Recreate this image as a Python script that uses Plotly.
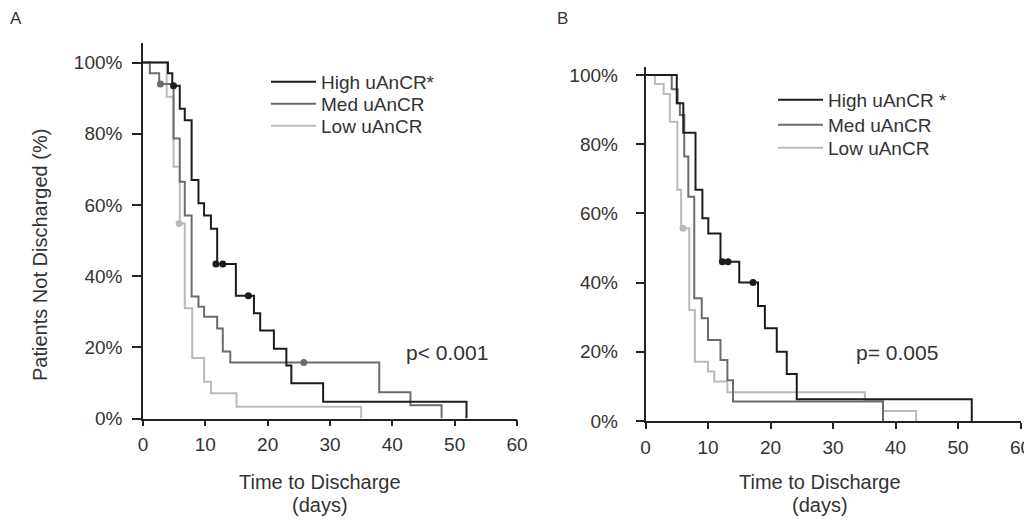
import plotly.graph_objects as go

# ---------------- Panel A data (days, % not discharged) ----------------
a_high_t = [0, 4.0, 4.7, 5.9, 6.7, 7.8, 8.9, 9.8, 10.9, 11.9, 14.9, 17.8, 18.8, 21.0, 23.0, 23.8, 28.9, 51.9]
a_high_s = [100, 97, 93.5, 87, 83.8, 67, 60.5, 57, 53.3, 43.4, 34.5, 29.6, 24.7, 19.6, 14.9, 9.9, 4.7, 0]
a_high_ct = [4.9, 11.7, 12.8, 16.9]
a_high_cs = [93.5, 43.4, 43.4, 34.5]

a_med_t = [0, 1.1, 2.6, 4.9, 5.9, 6.7, 7.8, 8.9, 9.8, 11.9, 12.8, 14.0, 37.9, 42.9, 47.9]
a_med_s = [100, 97, 94, 78.7, 66.5, 57, 34.3, 31.4, 28.6, 25.3, 18.8, 15.7, 7.4, 3.7, 0]
a_med_ct = [2.8, 25.8]
a_med_cs = [94, 15.7]

a_low_t = [0, 3.8, 4.9, 5.9, 6.7, 7.9, 9.8, 10.9, 15.0, 35.0]
a_low_s = [100, 90.4, 70.7, 54.8, 31, 17, 10.3, 7.1, 3.3, 0]
a_low_ct = [5.8]
a_low_cs = [54.8]

# ---------------- Panel B data ----------------
b_high_t = [0, 5.0, 6.05, 8.0, 9.1, 10.05, 12.0, 15.0, 18.0, 19.1, 21.0, 22.6, 24.2, 52.2]
b_high_s = [100, 91.8, 83.3, 66.8, 58.6, 54.2, 46, 40, 33.2, 26.8, 20, 13.6, 6.3, 0]
b_high_ct = [12.3, 13.2, 17.2]
b_high_cs = [46, 46, 40]

b_med_t = [0, 4.2, 5.15, 5.5, 6.2, 6.85, 7.8, 9.0, 10.0, 12.0, 13.1, 14.0, 38.0]
b_med_s = [100, 95.9, 91.8, 88.4, 76.4, 64.8, 35.5, 29.7, 23.4, 17.6, 11.8, 5.6, 0]

b_low_t = [0, 1.5, 2.9, 3.9, 5.1, 5.7, 7.0, 7.9, 10.0, 11.0, 13.1, 35.1, 38.0, 43.3]
b_low_s = [100, 97.4, 94.5, 86.5, 66.8, 55.7, 32.1, 17.1, 14.3, 11.4, 8.3, 5.9, 2.9, 0]
b_low_ct = [6.0]
b_low_cs = [55.7]

x_ticks = [0, 10, 20, 30, 40, 50, 60]
y_ticks = [0, 20, 40, 60, 80, 100]
y_ticktext = ["0%", "20%", "40%", "60%", "80%", "100%"]

names_a = ["High uAnCR*", "Med uAnCR", "Low uAnCR"]
names_b = ["High uAnCR *", "Med uAnCR", "Low uAnCR"]
pvals = ["p< 0.001", "p= 0.005"]

C_HIGH = "#1c1c1c"
C_MED = "#6c6c6c"
C_LOW = "#bababa"
FONT = "Liberation Sans, Arial, sans-serif"
TXT = "#333333"

fig = go.Figure()


def curve(t, s, color, name, xa, ya, leg, width=2):
    fig.add_trace(go.Scatter(x=t, y=s, mode="lines", name=name,
                             line=dict(color=color, width=width, shape="hv"),
                             xaxis=xa, yaxis=ya, legend=leg, showlegend=True,
                             hoverinfo="skip"))


def censor(t, s, color, xa, ya):
    fig.add_trace(go.Scatter(x=t, y=s, mode="markers",
                             marker=dict(color=color, size=7, line=dict(width=0)),
                             xaxis=xa, yaxis=ya, showlegend=False, hoverinfo="skip",
                             cliponaxis=False))


# Panel A (light first so darker lines sit on top)
curve(a_low_t, a_low_s, C_LOW, names_a[2], "x", "y", "legend3")
curve(a_med_t, a_med_s, C_MED, names_a[1], "x", "y", "legend2")
curve(a_high_t, a_high_s, C_HIGH, names_a[0], "x", "y", "legend")
censor(a_low_ct, a_low_cs, C_LOW, "x", "y")
censor(a_med_ct, a_med_cs, C_MED, "x", "y")
censor(a_high_ct, a_high_cs, C_HIGH, "x", "y")

# Panel B
curve(b_low_t, b_low_s, C_LOW, names_b[2], "x2", "y2", "legend6")
curve(b_med_t, b_med_s, C_MED, names_b[1], "x2", "y2", "legend5")
curve(b_high_t, b_high_s, C_HIGH, names_b[0], "x2", "y2", "legend4")
censor(b_low_ct, b_low_cs, C_LOW, "x2", "y2")
censor(b_high_ct, b_high_cs, C_HIGH, "x2", "y2")

W, H = 1024, 524


def px(x):
    return x / W


def py(y):
    return (H - y) / H


def axis_style(ticklen, standoff):
    return dict(showline=True, linecolor="#222222", linewidth=1.5, ticks="outside",
                ticklen=ticklen, tickwidth=1.5, tickcolor="#222222", showgrid=False,
                zeroline=False, ticklabelstandoff=standoff, automargin=False,
                ticklabeloverflow="allow",
                tickfont=dict(family=FONT, size=19, color=TXT))


layout = dict(
    width=W, height=H, margin=dict(l=0, r=0, t=0, b=0, pad=0, autoexpand=False),
    paper_bgcolor="white", plot_bgcolor="white",
    font=dict(family=FONT, color=TXT),
    xaxis=dict(domain=[px(143), px(517)], range=[0, 60], tickvals=x_ticks, anchor="y",
               **axis_style(6, 2)),
    yaxis=dict(domain=[py(418.5), py(43)], range=[0, 105.5], tickvals=y_ticks, ticktext=y_ticktext,
               anchor="x", **axis_style(9, 6)),
    xaxis2=dict(domain=[px(645.5), px(1020.5)], range=[0, 60], tickvals=x_ticks, anchor="y2",
                **axis_style(6, 2)),
    yaxis2=dict(domain=[py(421), py(67)], range=[0, 102.3], tickvals=y_ticks, ticktext=y_ticktext,
                anchor="x2", **axis_style(8, 14)),
)

leg_font = dict(family=FONT, size=19, color=TXT)
leg_pos = {
    "legend": (266, 82), "legend2": (266, 104), "legend3": (266, 126),
    "legend4": (773, 100), "legend5": (773, 125), "legend6": (773, 148),
}
for key, (lx, ly) in leg_pos.items():
    layout[key] = dict(x=px(lx), y=py(ly), xanchor="left", yanchor="middle",
                       bgcolor="rgba(0,0,0,0)", font=leg_font, itemwidth=45)

fig.update_layout(**layout)


def note(text, x, y, size, angle=0):
    return dict(text=text, x=px(x), y=py(y), xref="paper", yref="paper", showarrow=False,
                xanchor="center", yanchor="middle", textangle=angle,
                font=dict(family=FONT, size=size, color=TXT))


ann = [
    note("A", 16, 18, 17),
    note("B", 562, 18, 17),
    note("Patients Not Discharged (%)", 40, 255, 20, -90),
]
for cx in (320, 820):
    ann.append(note("Time to Discharge", cx, 482, 20))
    ann.append(note("(days)", cx, 505, 20))
ann.append(note(pvals[0], 447, 352, 21))
ann.append(note(pvals[1], 897, 352, 21))
fig.update_layout(annotations=ann)

fig.write_html("out.html")
